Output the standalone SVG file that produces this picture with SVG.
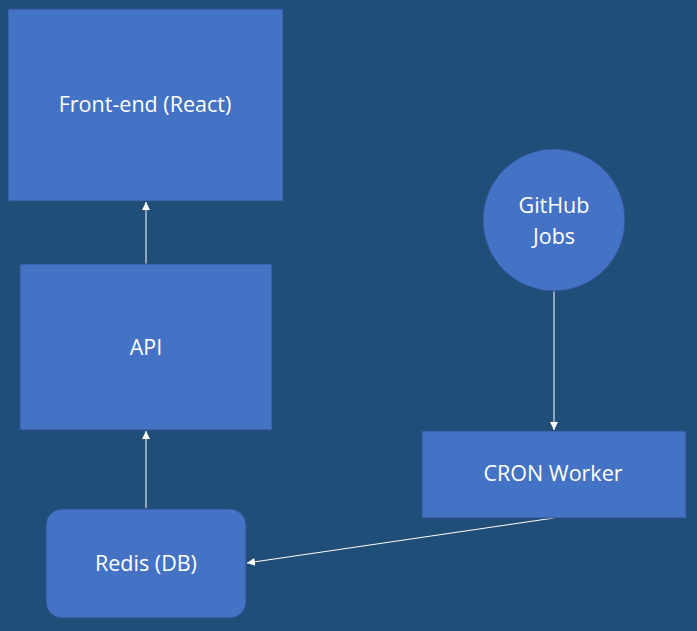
<svg xmlns="http://www.w3.org/2000/svg" width="697" height="631" viewBox="0 0 697 631">
<defs>
<style>
.n{fill:#4472C4;stroke:#2F528F;stroke-width:1}
.t{fill:#fff;font-family:"Open Sans","Noto Sans",sans-serif;font-size:21.5px;text-anchor:middle;dominant-baseline:central}
.c{stroke:#fff;stroke-width:1;fill:none;marker-end:url(#ah)}
</style>
<marker id="ah" viewBox="0 0 10 10" refX="10" refY="5" markerWidth="8" markerHeight="8" markerUnits="userSpaceOnUse" orient="auto">
<path d="M0,0 L10,5 L0,10 z" fill="#fff"/>
</marker>
</defs>
<rect width="697" height="631" fill="#1F4E79"/>
<g id="connectors">
<line class="c" x1="146" y1="264" x2="146" y2="202"/>
<line class="c" x1="146" y1="508" x2="146" y2="431"/>
<line class="c" x1="554" y1="289" x2="554" y2="430"/>
<line class="c" x1="554" y1="518" x2="247" y2="563"/>
</g>
<g id="frontend">
<rect class="n" x="8" y="9" width="275" height="192"/>
<text class="t" x="145" y="103">Front-end (React)</text>
</g>
<g id="api">
<rect class="n" x="20" y="264" width="252" height="166"/>
<text class="t" x="146" y="346">API</text>
</g>
<g id="redis">
<rect class="n" x="46" y="509" width="200" height="109" rx="16"/>
<text class="t" x="146" y="562">Redis (DB)</text>
</g>
<g id="github">
<circle class="n" cx="554" cy="220" r="71"/>
<text class="t" x="554" y="204">GitHub</text>
<text class="t" x="554" y="235">Jobs</text>
</g>
<g id="cron">
<rect class="n" x="422" y="431" width="264" height="87"/>
<text class="t" x="553" y="472">CRON Worker</text>
</g>
</svg>
